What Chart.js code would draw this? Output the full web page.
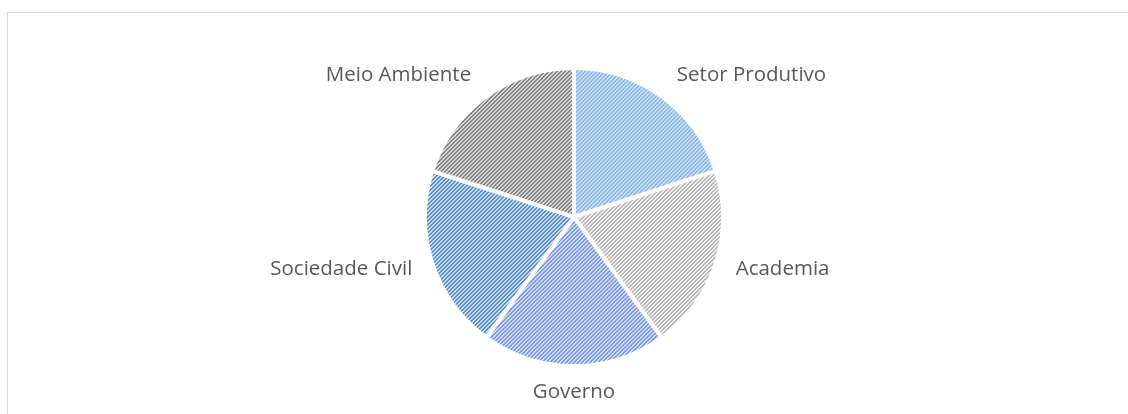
<!DOCTYPE html>
<html>
<head>
<meta charset="utf-8">
<script src="https://cdn.jsdelivr.net/npm/chart.js@4"></script>
<style>
  html, body { margin: 0; padding: 0; background: #fff; }
  #wrap { position: relative; width: 1128px; height: 414px; }
  #frame { position: absolute; left: 7px; top: 12px; width: 1130px; height: 420px; border: 1px solid #d9d9d9; box-sizing: border-box; }
  canvas { position: absolute; left: 0; top: 0; }
</style>
</head>
<body>
<div id="wrap">
  <div id="frame"></div>
  <canvas id="pie-chart" width="1128" height="414"></canvas>
</div>
<script>
const labels = ["Setor Produtivo", "Academia", "Governo", "Sociedade Civil", "Meio Ambiente"];
const values = [20, 20, 20, 20, 20];
const bgColors = ["#c6def4", "#ececec", "#cddaf5", "#c4dcf1", "#d8d8d8"];
const fgColors = ["#92b9e3", "#bababa", "#8099d8", "#5e8dc2", "#828282"];

function stripes(bg, fg) {
  const c = document.createElement("canvas");
  c.width = 4; c.height = 4;
  const ctx = c.getContext("2d");
  ctx.fillStyle = bg;
  ctx.fillRect(0, 0, 4, 4);
  ctx.fillStyle = fg;
  for (let y = 0; y < 4; y++) {
    ctx.fillRect((3 - y + 4) % 4, y, 1, 1);
    ctx.fillRect((4 - y) % 4, y, 1, 1);
  }
  return ctx.createPattern(c, "repeat");
}

const outsideLabels = {
  id: "outsideLabels",
  afterDatasetsDraw(chart) {
    const ctx = chart.ctx;
    const meta = chart.getDatasetMeta(0);
    ctx.save();
    ctx.font = "20.5px 'Open Sans'";
    ctx.fillStyle = "#595959";
    ctx.textBaseline = "middle";
    meta.data.forEach((arc, i) => {
      const p = arc.getProps(["x", "y", "startAngle", "endAngle", "outerRadius"], true);
      const a = (p.startAngle + p.endAngle) / 2;
      const c = Math.cos(a);
      const r = p.outerRadius + (Math.abs(c) > 0.9 ? 21 : 26);
      const x = p.x + c * r;
      const y = p.y + Math.sin(a) * r;
      ctx.textAlign = Math.abs(c) < 0.2 ? "center" : (c > 0 ? "left" : "right");
      ctx.fillText(chart.data.labels[i], x, y);
    });
    ctx.restore();
  }
};

new Chart(document.getElementById("pie-chart"), {
  type: "pie",
  data: {
    labels: labels,
    datasets: [{
      data: values,
      backgroundColor: bgColors.map((b, i) => stripes(b, fgColors[i])),
      borderColor: "#ffffff",
      borderWidth: 4
    }]
  },
  options: {
    responsive: false,
    animation: false,
    layout: { padding: { left: 20, right: 0, top: 66, bottom: 46 } },
    plugins: {
      legend: { display: false },
      tooltip: { enabled: false }
    }
  },
  plugins: [outsideLabels]
});
</script>
</body>
</html>
